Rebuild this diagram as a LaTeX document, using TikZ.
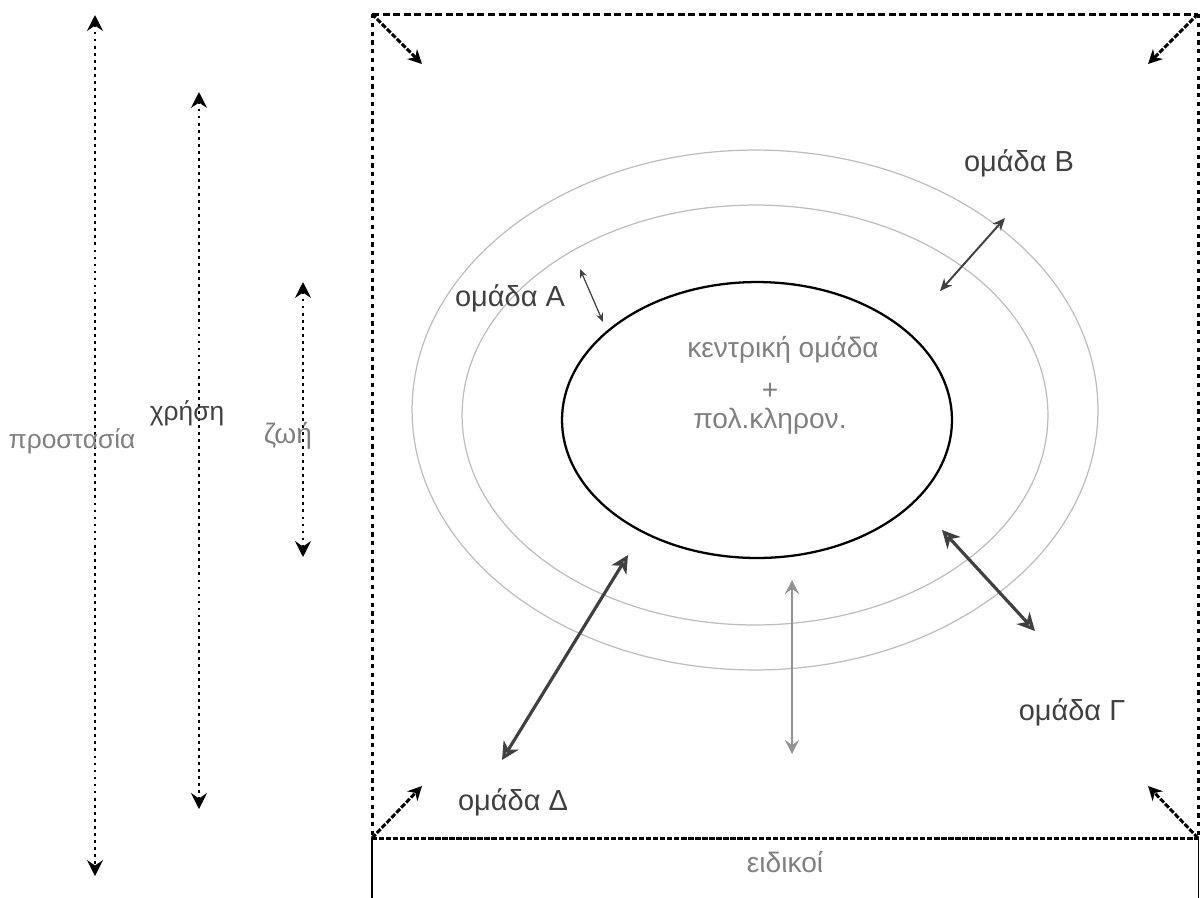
\documentclass[tikz,border=0pt]{standalone}
\usepackage{fontspec}
\setmainfont{Liberation Sans}
\usepackage{tikz}
\usetikzlibrary{arrows,arrows.meta,positioning,calc}
\definecolor{txtdark}{gray}{0.25}
\definecolor{txtlight}{gray}{0.5}
\definecolor{ringgray}{gray}{0.74}
\tikzset{
  grplabel/.style={text=txtdark,font=\fontsize{16.5}{19}\selectfont,inner sep=0pt},
  softlabel/.style={text=txtlight,font=\fontsize{16}{19}\selectfont,inner sep=0pt},
  dotline/.style={{Stealth[length=9pt,width=9pt,inset=3pt]}-{Stealth[length=9pt,width=9pt,inset=3pt]},line width=1.6pt,dash pattern=on 1.6pt off 2.4pt},
  edgedot/.style={line width=1.7pt,dash pattern=on 2.4pt off 2.6pt},
  edgedash/.style={line width=1.7pt,dash pattern=on 4pt off 2pt},
  cornerarrow/.style={-{Stealth[length=8pt,width=8pt]},line width=1.7pt,dash pattern=on 3pt off 1pt},
  thicklink/.style={{Stealth[length=10pt,width=10pt,inset=3pt,fill=gray!60]}-{Stealth[length=10pt,width=10pt,inset=3pt,fill=gray!60]},draw=txtdark,line width=1.8pt},
  ring/.style={draw=ringgray,line width=0.7pt}
}
\begin{document}
\begin{tikzpicture}[x=0.02cm,y=-0.02cm]
\useasboundingbox (0,0) rectangle (1202,897);
% frame
\coordinate (tl) at (372,14);
\coordinate (tr) at (1198,14);
\coordinate (bl) at (372,838);
\coordinate (br) at (1198,838);
\draw[edgedash] (tl) -- (tr);
\draw[edgedot] (tl) -- (bl);
\draw[edgedot] (tr) -- (br);
% corner arrows
\coordinate (tlin) at (422,64);
\coordinate (trin) at (1148,64);
\coordinate (blin) at (422,786);
\coordinate (brin) at (1148,786);
\draw[cornerarrow] (tl) -- (tlin);
\draw[cornerarrow] (tr) -- (trin);
\draw[cornerarrow] (bl) -- (blin);
\draw[cornerarrow] (br) -- (brin);
% box of the specialists
\node[anchor=north west,minimum width=16.52cm,minimum height=1.2cm,inner sep=0pt] (eidikoi) at (bl) {};
\draw[line width=1pt] (eidikoi.south west) -- (eidikoi.north west);
\draw[line width=1pt] (eidikoi.south east) -- (eidikoi.north east);
\draw[edgedash,dash pattern=on 3pt off 1pt] (eidikoi.north west) -- (eidikoi.north east);
\node[softlabel] (eidikoitxt) at (785,862) {ειδικοί};
% rings
\coordinate (core) at (757,420);
\draw[ring] (755,410) ellipse [x radius=6.86cm,y radius=5.2cm];
\draw[ring] (755,415) ellipse [x radius=5.86cm,y radius=4.2cm];
\draw[line width=1.3pt] (core) ellipse [x radius=3.9cm,y radius=2.76cm];
\node[softlabel] (kentriki) at (783,350) {κεντρική ομάδα};
\node[softlabel] (plus) at (770,391) {+};
\node[softlabel] (polkl) at (770,421) {πολ.κληρον.};
% group labels
\node[grplabel] (grpA) at (510,298) {ομάδα Α};
\node[grplabel] (grpB) at (1019,163) {ομάδα Β};
\node[grplabel] (grpG) at (1072,712) {ομάδα Γ};
\node[grplabel] (grpD) at (513,802) {ομάδα Δ};
% links between the rings
\coordinate (aout) at (580,269);
\coordinate (ain) at (603,322);
\coordinate (bin) at (940,291);
\coordinate (bout) at (1005,218);
\coordinate (gin) at (942,530);
\coordinate (gout) at (1035,631);
\coordinate (din) at (628,555);
\coordinate (dout) at (502,760);
\coordinate (mtop) at (792,580);
\coordinate (mbot) at (792,754);
\draw[{Stealth[length=5pt,width=4pt]}-{Stealth[length=5pt,width=4pt]},draw=txtdark,line width=0.7pt] (aout) -- (ain);
\draw[{Stealth[length=7pt,width=6pt]}-{Stealth[length=7pt,width=6pt]},draw=txtdark,line width=1.1pt] (bin) -- (bout);
\draw[thicklink] (gin) -- (gout);
\draw[thicklink] (din) -- (dout);
\draw[{Stealth[length=8pt,width=8pt,inset=3pt]}-{Stealth[length=8pt,width=8pt,inset=3pt]},draw=gray!85,line width=1.4pt] (mtop) -- (mbot);
% left scales
\coordinate (protop) at (95,15);
\coordinate (probot) at (95,876);
\coordinate (chrtop) at (199,92);
\coordinate (chrbot) at (199,809);
\coordinate (zoitop) at (303,282);
\coordinate (zoibot) at (303,557);
\draw[dotline] (protop) -- (probot);
\draw[dotline] (chrtop) -- (chrbot);
\draw[dotline] (zoitop) -- (zoibot);
\node[softlabel,font=\fontsize{15}{18}\selectfont] (prostasia) at (72,441) {προστασία};
\node[grplabel,font=\fontsize{15}{18}\selectfont] (chrisi) at (187,413) {χρήση};
\node[softlabel] (zoi) at (288,436) {ζωή};
\end{tikzpicture}
\end{document}
